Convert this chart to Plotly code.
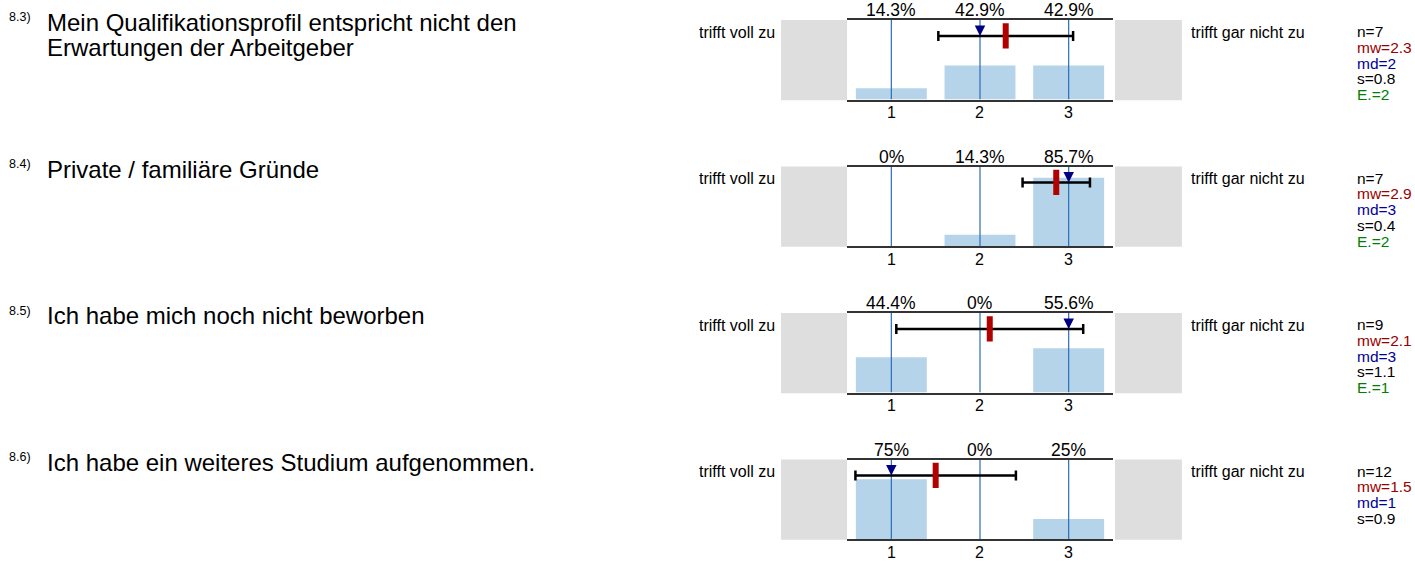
import plotly.graph_objects as go

# --- data -----------------------------------------------------------------
codes = ["8.3)", "8.4)", "8.5)", "8.6)"]
question_lines = [
    ["Mein Qualifikationsprofil entspricht nicht den", "Erwartungen der Arbeitgeber"],
    ["Private / familiäre Gründe"],
    ["Ich habe mich noch nicht beworben"],
    ["Ich habe ein weiteres Studium aufgenommen."],
]
categories = [1, 2, 3]
percentages = [
    [14.3, 42.9, 42.9],
    [0, 14.3, 85.7],
    [44.4, 0, 55.6],
    [75, 0, 25],
]
n_values = [7, 7, 9, 12]
means = [2.29, 2.86, 2.11, 1.5]
medians = [2, 3, 3, 1]
std_devs = [0.76, 0.38, 1.054, 0.905]
abstentions = [2, 2, 1, None]
left_label = "trifft voll zu"
right_label = "trifft gar nicht zu"

# --- layout constants (pixels) ---------------------------------------------
W, H = 1415, 562
PLOT_X0, PLOT_X1 = 847, 1113
PANEL_TOP0, PANEL_STEP, PANEL_H = 20, 146.5, 79.5
STAT_Y = 80  # height of the mean / spread marker, in axis units

FONT = "Liberation Sans, Arial, sans-serif"
BAR_COLOR = "#b5d4ea"
GRID_BLUE = "#2a6db5"
MEAN_RED = "#b00000"
MEDIAN_NAVY = "#000080"
GRAY = "#dedede"


def py(y_px):
    """pixel from top -> paper y"""
    return 1 - y_px / H


def px(x_px):
    return x_px / W


def label(x, y, text, size, color="black", xref="paper", xanchor="left"):
    return {
        "x": x, "xref": xref, "y": py(y), "yref": "paper",
        "xanchor": xanchor, "yanchor": "middle",
        "text": text, "showarrow": False,
        "font": {"size": size, "color": color},
    }


fig = go.Figure()
annotations = []
shapes = []

for i, pct in enumerate(percentages):
    k = "" if i == 0 else str(i + 1)
    xa, ya = "x" + k, "y" + k
    top = PANEL_TOP0 + i * PANEL_STEP
    bottom = top + PANEL_H

    fig.add_trace(
        go.Bar(
            x=categories,
            y=pct,
            width=0.8,
            marker={"color": BAR_COLOR, "line": {"width": 0}},
            xaxis=xa,
            yaxis=ya,
            hoverinfo="skip",
        )
    )

    # vertical blue guide lines at each category
    vx, vy = [], []
    for c in categories:
        vx += [c, c, None]
        vy += [0, 100, None]
    fig.add_trace(
        go.Scatter(
            x=vx, y=vy, mode="lines",
            line={"color": GRID_BLUE, "width": 1.2},
            xaxis=xa, yaxis=ya, hoverinfo="skip",
        )
    )

    # spread (mean +- s)
    fig.add_trace(
        go.Scatter(
            x=[means[i]], y=[STAT_Y], mode="markers",
            marker={"size": 1, "color": "rgba(0,0,0,0)"},
            error_x={"type": "data", "array": [std_devs[i]], "color": "black",
                     "thickness": 2.5, "width": 5},
            xaxis=xa, yaxis=ya, hoverinfo="skip",
        )
    )
    # mean
    fig.add_trace(
        go.Scatter(
            x=[means[i]], y=[STAT_Y], mode="markers",
            marker={"symbol": "line-ns", "size": 18,
                    "line": {"width": 6, "color": MEAN_RED}},
            xaxis=xa, yaxis=ya, hoverinfo="skip",
        )
    )
    # median
    fig.add_trace(
        go.Scatter(
            x=[medians[i]], y=[STAT_Y], mode="markers",
            marker={"symbol": "arrow-down", "size": 10.5, "color": MEDIAN_NAVY,
                    "line": {"width": 0}},
            xaxis=xa, yaxis=ya, hoverinfo="skip",
        )
    )

    fig.update_layout({
        ("xaxis" + k): {
            "domain": [px(PLOT_X0), px(PLOT_X1)],
            "anchor": ya,
            "range": [0.5, 3.5],
            "showticklabels": False,
            "ticks": "",
            "showgrid": False,
            "zeroline": False,
            "showline": True,
            "mirror": True,
            "linecolor": "#333333",
            "linewidth": 2,
            "fixedrange": True,
        },
        ("yaxis" + k): {
            "domain": [py(bottom), py(top)],
            "anchor": xa,
            "range": [0, 100],
            "visible": False,
            "fixedrange": True,
        },
    })

    # grey end boxes
    for x0, x1 in [(-0.248, 0), (1.0075, 1.259)]:
        shapes.append({
            "type": "rect", "xref": xa + " domain", "yref": ya + " domain",
            "x0": x0, "x1": x1, "y0": -0.01, "y1": 1.0,
            "fillcolor": GRAY, "line": {"width": 0}, "layer": "below",
        })

    # percentages above bars, category numbers below
    for c, p in zip(categories, pct):
        annotations.append(label(c, top - 10, f"{p:g}%", 17.5, xref=xa, xanchor="center"))
        annotations.append(label(c, bottom + 13, str(c), 16, xref=xa, xanchor="center"))

    # scale labels
    annotations.append(label(px(697), top + 12, left_label, 16))
    annotations.append(label(px(1189), top + 12, right_label, 16))

    # statistics column
    stats = [
        (f"n={n_values[i]}", "black"),
        (f"mw={means[i]:.1f}", "#990000"),
        (f"md={medians[i]}", "#000099"),
        (f"s={std_devs[i]:.1f}", "black"),
    ]
    if abstentions[i] is not None:
        stats.append((f"E.={abstentions[i]}", "#008000"))
    for j, (txt, col) in enumerate(stats):
        annotations.append(label(px(1355), top + 11.5 + 15.75 * j, txt, 15.5, col))

    # question text
    annotations.append(label(px(7), top - 2.5, codes[i], 12.5))
    for j, line in enumerate(question_lines[i]):
        annotations.append(label(px(45), top + 2.5 + 25 * j, line, 24))

fig.update_layout(
    width=W,
    height=H,
    margin={"l": 0, "r": 0, "t": 0, "b": 0},
    paper_bgcolor="white",
    plot_bgcolor="white",
    showlegend=False,
    font={"family": FONT},
    annotations=annotations,
    shapes=shapes,
    barmode="overlay",
)

fig.write_html(
    "out.html",
    config={"displayModeBar": False},
    post_script="document.body.style.margin='0';",
)
